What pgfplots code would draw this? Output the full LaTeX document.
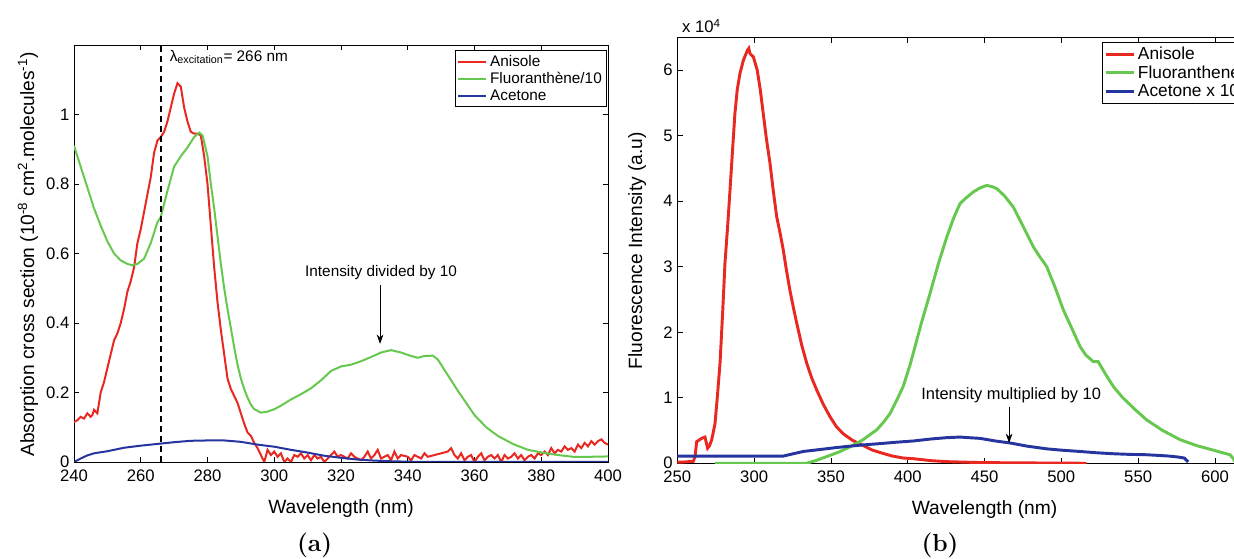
\documentclass[border=0pt]{standalone}
\usepackage{fontspec}
\setsansfont{Liberation Sans}
\usepackage{pgfplots}
\pgfplotsset{compat=1.18}
\usetikzlibrary{arrows.meta}
\definecolor{cred}{RGB}{232,40,33}
\definecolor{cgreen}{RGB}{102,200,78}
\definecolor{cblue}{RGB}{38,52,160}

\pgfplotsset{
  every axis/.append style={
    scale only axis,
    anchor=south west,
    axis line style={black, line width=0.7pt},
    tick align=inside,
    major tick length=4pt,
    tick style={black, line width=0.6pt},
    tick label style={font=\sffamily\fontsize{12.5}{14}\selectfont},
    xticklabel style={yshift=-2pt},
    xlabel style={font=\sffamily\fontsize{14.4}{16}\selectfont, yshift=-7pt},
    /pgf/number format/assume math mode=true,
    legend cell align=left,
    legend style={font=\sffamily\fontsize{11.5}{13}\selectfont, draw=black,
      line width=0.7pt, inner sep=1.5pt, row sep=-1pt},
    legend image code/.code={\draw[#1] (0pt,0pt) -- (21pt,0pt);},
    clip mode=individual,
  }
}

\begin{document}
\begin{tikzpicture}[font=\sffamily]
\useasboundingbox (0,0) rectangle (925.5pt,419.25pt);
\clip (0,0) rectangle (925.5pt,419.25pt);

% (a) absorption
\begin{axis}[
  at={(55.5pt,72.75pt)},
  width=400.5pt, height=312.75pt,
  xmin=240, xmax=400, ymin=0, ymax=1.2,
  xtick={240,260,...,400},
  ytick={0,0.2,0.4,0.6,0.8,1},
  xlabel={Wavelength (nm)},
  legend style={at={(0.998,0.988)}, anchor=north east},
]
\addplot[cred, line width=1.5pt] coordinates {
(240,0.115) (241,0.12) (242,0.13) (243,0.125) (244,0.14) (245,0.13) (245.5,0.135) (246,0.15) (247,0.14)
(248,0.2) (249,0.23) (250,0.27) (251,0.31) (252,0.35) (253,0.37) (254,0.4) (255,0.44)
(256,0.49) (257,0.52) (258,0.56) (259,0.63) (260,0.67) (261,0.72) (262,0.77) (263,0.82)
(264,0.89) (265,0.925) (266,0.935) (267,0.95) (268,0.98) (269,1.02) (270,1.06) (271,1.09)
(272,1.08) (273,1.02) (274,0.98) (275,0.95) (276,0.945) (277,0.945) (278,0.94) (279,0.88)
(280,0.8) (281,0.68) (282,0.56) (283,0.46) (284,0.38) (285,0.31) (286,0.24) (287,0.21)
(288,0.19) (289,0.17) (290,0.14) (291,0.11) (292,0.085) (293,0.075) (294,0.055) (295,0.04)
(296,0.02) (297,0.0) (298,0.035) (299,0.02) (300,0.03) (301,0.015) (302,0.025) (303,0.0)
(304,0.01) (305,0.0) (306,0.02) (307,0.015) (308,0.025) (309,0.01) (310,0.02) (311,0.005)
(312,0.02) (313,0.01) (314,0.015) (315,0.0) (316,0.01) (317,0.02) (318,0.03) (319,0.015)
(320,0.02) (322,0.01) (323,0.025) (324,0.015) (326,0.005) (327,0.015) (328,0.03) (329,0.01)
(330,0.02) (331,0.035) (332,0.01) (334,0.02) (335,0.005) (336,0.03) (337,0.01) (338,0.02)
(340,0.015) (341,0.005) (342,0.02) (344,0.01) (345,0.025) (346,0.015) (348,0.02) (350,0.025)
(352,0.03) (353,0.04) (354,0.02) (355,0.01) (356,0.025) (357,0.005) (358,0.015) (359,0.02)
(360,0.0) (361,0.015) (362,0.025) (363,0.005) (364,0.015) (365,0.02) (366,0.01) (367,0.02)
(368,0.0) (369,0.02) (370,0.01) (371,0.015) (372,0.025) (373,0.01) (374,0.02) (375,0.005)
(376,0.015) (377,0.02) (378,0.01) (379,0.025) (380,0.02) (381,0.03) (382,0.02) (383,0.04)
(384,0.025) (385,0.035) (386,0.03) (387,0.045) (388,0.035) (389,0.04) (390,0.03) (391,0.05)
(392,0.04) (393,0.055) (394,0.045) (395,0.06) (396,0.05) (397,0.06) (398,0.065) (399,0.055) (400,0.05)
};
\addlegendentry{Anisole}
\addplot[cgreen, line width=1.5pt] coordinates {
(240,0.91) (242,0.85) (244,0.79) (246,0.73) (248,0.68) (250,0.635) (252,0.6) (254,0.58)
(256,0.57) (257.5,0.566) (259,0.57) (261,0.585) (263,0.63) (265,0.69) (266,0.705) (268,0.78)
(270,0.85) (272,0.88) (274,0.905) (276,0.935) (277.5,0.948) (278.5,0.94) (280,0.88) (281,0.8)
(282,0.73) (283,0.65) (284,0.57) (285,0.5) (286,0.44) (287,0.385) (288,0.33) (289,0.28)
(290,0.24) (291,0.21) (292,0.185) (293,0.165) (294,0.152) (296,0.142) (298,0.145) (300,0.152)
(302,0.162) (305,0.18) (308,0.195) (311,0.212) (314,0.235) (317,0.262) (320,0.275) (323,0.28)
(326,0.29) (329,0.302) (332,0.315) (335,0.322) (338,0.315) (341,0.305) (343,0.3) (345,0.305)
(347.5,0.306) (349,0.295) (351,0.265) (353,0.235) (355,0.205) (357.5,0.17) (360,0.135)
(363.5,0.1) (367,0.075) (371.5,0.052) (376,0.035) (381.5,0.025) (385,0.02) (389.5,0.015)
(395,0.015) (400,0.016)
};
\addlegendentry{Fluoranthène/10}
\addplot[cblue, line width=1.5pt] coordinates {
(240,0) (242,0.01) (244,0.019) (246,0.025) (250,0.031) (255,0.041) (260,0.047) (266,0.053)
(270,0.057) (275,0.061) (280,0.062) (285,0.062) (290,0.058) (295,0.05) (300,0.044) (305,0.035)
(310,0.027) (315,0.018) (320,0.012) (325,0.007) (330,0.004) (335,0.002) (340,0.001) (345,0) (400,0)
};
\addlegendentry{Acetone}
\addplot[black, line width=1.6pt, dash pattern=on 4.5pt off 3pt, forget plot] coordinates {(266,0) (266,1.2)};
\node[anchor=west, font=\sffamily\fontsize{11.5}{13}\selectfont] at (axis cs:267.3,1.165)
  {λ\textsubscript{excitation}= 266 nm};
\node[font=\sffamily\fontsize{11.5}{13}\selectfont] at (axis cs:332,0.545) {Intensity divided by 10};
\draw[-{Stealth[length=7pt,width=5pt]}, line width=0.6pt] (axis cs:331.7,0.51) -- (axis cs:331.7,0.34);
\end{axis}

% (b) fluorescence
\begin{axis}[
  at={(508pt,71.8pt)},
  width=460.8pt, height=319.5pt,
  xmin=250, xmax=650, ymin=0, ymax=6.5,
  xtick={250,300,...,600},
  ytick={0,1,...,6},
  xlabel={Wavelength (nm)},
  legend style={at={(0.691,0.989)}, anchor=north west, font=\sffamily\fontsize{13}{14}\selectfont},
]
\addplot[cred, line width=2.2pt] coordinates {
(250,0.015) (255,0.02) (260.4,0.03) (261.5,0.1) (262.6,0.33) (265.8,0.38) (268,0.4) (269,0.3)
(269.7,0.23) (271,0.27) (272.4,0.36) (274.5,0.6) (276,1.0) (277.8,1.53) (279.5,2.3) (281,3.05)
(282.7,3.6) (284.3,4.17) (286,4.8) (287.5,5.34) (289,5.7) (290.8,5.95) (293,6.15) (295.6,6.3)
(296.5,6.33) (297.3,6.25) (299.5,6.2) (302,6.0) (304,5.7) (305.9,5.34) (308,4.95) (310.3,4.58)
(312.5,4.15) (314.7,3.76) (317,3.5) (319,3.25) (321,2.95) (323.3,2.64) (325.5,2.38) (327.7,2.14)
(331,1.8) (334.2,1.53) (337.5,1.3) (340.7,1.12) (345,0.9) (349.4,0.71) (353.5,0.56) (358,0.45)
(364,0.35) (371,0.27) (377,0.2) (384,0.15) (390,0.11) (397,0.08) (403.6,0.07) (415,0.04)
(425,0.025) (440,0.015) (450,0.01) (480,0.005) (516.5,0)
};
\addlegendentry{Anisole}
\addplot[cgreen, line width=2.2pt] coordinates {
(274.5,0) (300,0) (334,0) (340,0.04) (347,0.1) (355,0.17) (362.4,0.25) (371,0.36) (375,0.43)
(379.8,0.51) (384,0.62) (388.5,0.76) (392.8,0.96) (397,1.17) (401.5,1.5) (403.6,1.68) (409,2.15)
(414.5,2.59) (420,3.05) (425.4,3.45) (430,3.75) (434,3.96) (438,4.05) (442.7,4.14) (447,4.2)
(451.4,4.24) (455,4.22) (458,4.19) (463,4.08) (468.7,3.91) (475,3.62) (481.8,3.3) (486,3.15)
(490.5,3.0) (496,2.68) (501.3,2.34) (507,2.05) (512.2,1.78) (516,1.65) (520.8,1.55) (524,1.55)
(529,1.35) (533.9,1.17) (540,1.0) (548,0.82) (555.6,0.66) (566,0.5) (577.3,0.36) (588,0.27)
(599,0.2) (605,0.16) (609.8,0.13) (612,0.07) (613,0.02)
};
\addlegendentry{Fluoranthene}
\addplot[cblue, line width=2.2pt] coordinates {
(250,0.11) (319,0.11) (332,0.18) (343,0.21) (353.7,0.24) (362,0.26) (371,0.28) (382,0.3)
(392,0.32) (403.6,0.34) (415,0.37) (425,0.39) (434,0.4) (440,0.39) (447,0.38) (457,0.34)
(466.5,0.31) (478,0.26) (490.5,0.22) (500,0.2) (512,0.18) (523,0.16) (534,0.145) (545,0.135)
(555.6,0.13) (563,0.12) (570,0.11) (576,0.095) (580,0.08) (582.6,0.02)
};
\addlegendentry{Acetone x 10}
\node[font=\sffamily\fontsize{12.3}{14}\selectfont] at (axis cs:467.3,1.03) {Intensity multiplied by 10};
\draw[-{Stealth[length=7pt,width=5pt]}, line width=0.6pt] (axis cs:466,0.86) -- (axis cs:466,0.31);
\end{axis}

% axis labels and captions
\node[rotate=90, font=\sffamily\fontsize{14.4}{16}\selectfont] at (21pt,228.4pt)
  {Absorption cross section (10\textsuperscript{-8} cm\textsuperscript{2}.molecules\textsuperscript{-1})};
\node[rotate=90, font=\sffamily\fontsize{14.4}{16}\selectfont] at (477.9pt,231.3pt)
  {Fluorescence Intensity (a.u)};
\node[anchor=base west, font=\sffamily\fontsize{12.5}{14}\selectfont] at (508pt,394.5pt) {x 10\textsuperscript{4}};
\node[font=\rmfamily\bfseries\fontsize{18.5}{21}\selectfont] at (236pt,10.5pt) {(a)};
\node[font=\rmfamily\bfseries\fontsize{18.5}{21}\selectfont] at (705pt,10.5pt) {(b)};
\end{tikzpicture}
\end{document}
